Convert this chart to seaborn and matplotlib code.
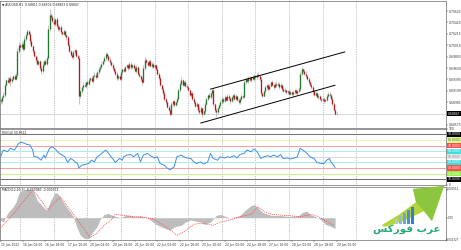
import numpy as np
import matplotlib
matplotlib.use("Agg")
import matplotlib.pyplot as plt
import matplotlib.transforms as mtrans
from matplotlib.patches import Polygon, Rectangle
import seaborn as sns

sns.set_style("white")
plt.rcParams['font.family'] = ['DejaVu Sans']

# ---------------- data ----------------
symbol_title = "\u25BC AUDUSD,H1  0.68811 0.68906 0.68803 0.68847"
rsi_title = "RSI(14) 30.8512"
macd_title = "MACD(12,26,9) -0.000983 -0.000712"

first_open = 0.6903
close = [
    0.6900, 0.6908, 0.6912, 0.6930, 0.6938, 0.6935, 0.6942, 0.6936, 0.6940, 0.6945,
    0.6941, 0.6948, 0.6990, 0.7002, 0.6998, 0.7004, 0.6995, 0.7012, 0.7020, 0.7026,
    0.7022, 0.7008, 0.6999, 0.6990, 0.6982, 0.6975, 0.6968, 0.6972, 0.6960, 0.6955,
    0.6966, 0.6972, 0.6968, 0.6978, 0.7030, 0.7055, 0.7052, 0.7045, 0.7040, 0.7048,
    0.7036, 0.7030, 0.7034, 0.7024, 0.7022, 0.7026, 0.7019, 0.7015, 0.7002, 0.6990,
    0.6984, 0.6980, 0.6988, 0.6992, 0.6982, 0.6978, 0.6910, 0.6918, 0.6925, 0.6930,
    0.6928, 0.6935, 0.6932, 0.6938, 0.6942, 0.6937, 0.6945, 0.6948, 0.6944, 0.6952,
    0.6958, 0.6962, 0.6968, 0.6972, 0.6978, 0.6986, 0.6982, 0.6975, 0.6970, 0.6966,
    0.6960, 0.6955, 0.6950, 0.6942, 0.6945, 0.6940, 0.6952, 0.6958, 0.6955, 0.6962,
    0.6965, 0.6960, 0.6968, 0.6962, 0.6966, 0.6960, 0.6955, 0.6962, 0.6950, 0.6945,
    0.6940, 0.6935, 0.6960, 0.6975, 0.6970, 0.6966, 0.6972, 0.6964, 0.6968, 0.6962,
    0.6965, 0.6958, 0.6950, 0.6942, 0.6930, 0.6922, 0.6915, 0.6905, 0.6898, 0.6890,
    0.6885, 0.6878, 0.6895, 0.6900, 0.6893, 0.6898, 0.6905, 0.6920, 0.6932, 0.6938,
    0.6930, 0.6935, 0.6928, 0.6925, 0.6920, 0.6912, 0.6915, 0.6905, 0.6898, 0.6892,
    0.6895, 0.6885, 0.6880, 0.6888, 0.6878, 0.6882, 0.6895, 0.6905, 0.6912, 0.6908,
    0.6915, 0.6920, 0.6895, 0.6885, 0.6880, 0.6888, 0.6893, 0.6898, 0.6905, 0.6900,
    0.6908, 0.6903, 0.6910, 0.6906, 0.6900, 0.6907, 0.6912, 0.6905, 0.6909, 0.6903,
    0.6898, 0.6905, 0.6910, 0.6908, 0.6935, 0.6940, 0.6936, 0.6942, 0.6938, 0.6944,
    0.6940, 0.6946, 0.6943, 0.6948, 0.6945, 0.6940, 0.6915, 0.6910, 0.6918, 0.6925,
    0.6930, 0.6922, 0.6928, 0.6935, 0.6930, 0.6926, 0.6932, 0.6929, 0.6932, 0.6926,
    0.6930, 0.6922, 0.6918, 0.6920, 0.6916, 0.6918, 0.6914, 0.6917, 0.6913, 0.6916,
    0.6920, 0.6915, 0.6918, 0.6922, 0.6950, 0.6958, 0.6955, 0.6950, 0.6945, 0.6940,
    0.6935, 0.6930, 0.6925, 0.6918, 0.6912, 0.6915, 0.6908, 0.6910, 0.6905, 0.6902,
    0.6904, 0.6900, 0.6903, 0.6910, 0.6914, 0.6911, 0.6905, 0.6895, 0.6885, 0.6878,
    0.6878,
]
up_wick_pips = [
    3, 2, 4, 2, 3, 5, 2, 4, 3, 2,
    4, 3, 6, 5, 3, 4, 2, 5, 3, 4,
    2, 3, 4, 2, 3, 2, 4, 3, 2, 3,
    3, 2, 4, 3, 8, 12, 4, 3, 5, 2,
    3, 4, 2, 3, 2, 4, 3, 2, 3, 4,
    2, 3, 4, 2, 3, 2, 5, 3, 2, 4,
    3, 2, 3, 4, 2, 3, 2, 4, 3, 2,
    3, 4, 2, 3, 4, 3, 2, 3, 4, 2,
    3, 2, 4, 3, 2, 3, 4, 2, 3, 2,
    3, 4, 2, 3, 2, 3, 4, 3, 2, 3,
    2, 3, 5, 4, 3, 2, 3, 4, 2, 3,
    2, 3, 4, 2, 3, 2, 3, 4, 2, 3,
    3, 2, 4, 3, 2, 3, 2, 4, 3, 5,
    3, 2, 3, 4, 2, 3, 2, 3, 4, 2,
    3, 2, 4, 3, 2, 3, 4, 3, 2, 3,
    2, 3, 4, 2, 3, 2, 3, 4, 2, 3,
    3, 2, 3, 4, 2, 3, 2, 3, 4, 2,
    3, 2, 3, 2, 4, 3, 2, 3, 4, 2,
    3, 4, 2, 3, 5, 2, 3, 2, 3, 4,
    2, 3, 4, 2, 3, 2, 3, 4, 2, 3,
    3, 2, 3, 4, 2, 3, 2, 3, 2, 3,
    2, 3, 2, 3, 5, 3, 2, 3, 4, 2,
    3, 2, 3, 2, 3, 4, 2, 3, 2, 3,
    2, 3, 2, 4, 3, 2, 3, 2, 3, 2,
    2,
]
dn_wick_pips = [
    4, 3, 2, 5, 3, 2, 4, 8, 3, 2,
    3, 2, 4, 3, 5, 3, 4, 2, 3, 2,
    3, 4, 2, 3, 2, 4, 3, 2, 4, 6,
    4, 3, 2, 3, 2, 4, 3, 2, 3, 4,
    2, 3, 4, 2, 3, 2, 3, 4, 2, 3,
    3, 2, 3, 4, 2, 3, 15, 4, 3, 2,
    3, 4, 2, 3, 2, 3, 4, 2, 3, 2,
    2, 3, 2, 3, 2, 3, 2, 3, 2, 3,
    3, 2, 3, 4, 3, 2, 3, 2, 3, 2,
    2, 3, 2, 3, 4, 2, 3, 4, 3, 2,
    3, 6, 2, 3, 2, 3, 2, 3, 4, 2,
    3, 2, 3, 4, 3, 2, 3, 4, 3, 2,
    3, 4, 2, 3, 4, 2, 3, 2, 3, 2,
    2, 3, 2, 3, 2, 3, 4, 2, 3, 2,
    3, 4, 2, 3, 6, 2, 3, 2, 3, 2,
    3, 2, 3, 4, 9, 3, 2, 3, 2, 3,
    2, 3, 2, 3, 4, 2, 3, 2, 3, 2,
    3, 2, 3, 2, 2, 3, 2, 3, 2, 3,
    2, 3, 2, 3, 2, 3, 4, 3, 2, 3,
    2, 3, 2, 3, 2, 3, 2, 3, 2, 3,
    2, 3, 2, 3, 2, 3, 2, 3, 2, 3,
    3, 2, 3, 2, 3, 2, 3, 2, 3, 2,
    3, 2, 3, 4, 2, 3, 2, 3, 2, 3,
    2, 3, 2, 3, 2, 3, 2, 3, 3, 3,
    2,
]

# day separators (bar index of 00:00 of each day) and time labels (every 16 bars)
day_starts = [14, 38, 62, 86, 110, 134, 158, 182, 206, 230, 254]
label_bars = [0, 16, 32, 48, 64, 80, 96, 112, 128, 144, 160, 176, 192, 208, 224, 240]
time_labels = ["15 Jun 2022", "16 Jun 02:00", "16 Jun 18:00", "17 Jun 10:00",
               "20 Jun 02:00", "20 Jun 18:00", "21 Jun 10:00", "22 Jun 02:00",
               "22 Jun 18:00", "23 Jun 10:00", "24 Jun 02:00", "24 Jun 18:00",
               "27 Jun 10:00", "28 Jun 02:00", "28 Jun 18:00", "29 Jun 10:00"]

price_ticks = [0.70625, 0.70420, 0.70215, 0.70010, 0.69805, 0.69600,
               0.69395, 0.69190, 0.68985, 0.68575]
current_price_label = "0.68847"

# channel trend lines (bar, price anchors)
upper_line_bars = [150, 246]
upper_line_price = [0.6922, 0.6989]
lower_line_bars = [143, 239]
lower_line_price = [0.6861, 0.6929]

# RSI(14)
rsi_bar = [0, 2, 5, 7, 10, 13, 15, 19, 21, 23,
           24, 26, 29, 31, 32, 35, 37, 39, 42, 44,
           46, 48, 50, 52, 55, 56, 58, 61, 63, 65,
           67, 69, 71, 75, 76, 79, 81, 82, 85, 87,
           88, 90, 93, 95, 98, 100, 102, 105, 107, 110,
           112, 114, 117, 119, 121, 124, 126, 129, 131, 133,
           136, 138, 140, 143, 145, 148, 150, 152, 155, 157,
           160, 162, 164, 167, 169, 171, 174, 176, 179, 181,
           183, 186, 188, 191, 193, 195, 198, 200, 202, 205,
           207, 210, 212, 214, 216, 217, 219, 221, 224, 226,
           229, 231, 233, 235, 236, 238, 239]
rsi_val = [50, 62, 59, 65, 62, 74, 76, 72, 71, 62,
           50, 50, 44, 53, 48, 65, 68, 64, 56, 53,
           50, 40, 47, 44, 38, 30, 35, 37, 38, 44,
           41, 50, 53, 62, 60, 50, 44, 40, 47, 44,
           50, 53, 54, 50, 56, 41, 53, 56, 52, 48,
           50, 38, 35, 30, 27, 32, 50, 53, 50, 48,
           47, 41, 38, 41, 37, 41, 56, 47, 44, 50,
           48, 50, 49, 52, 48, 54, 56, 62, 59, 64,
           60, 47, 50, 52, 50, 53, 50, 54, 47, 48,
           46, 48, 50, 65, 62, 60, 56, 50, 47, 40,
           38, 38, 44, 47, 41, 35, 31]
rsi_levels = [90, 80, 70, 60, 50, 40, 30, 20, 10]
rsi_level_line_colors = ["#6e6e6e", "#e4f5c0", "#ff9a9a", "#a6f0f0", "#d9d9d9",
                         "#a6f0f0", "#ff9a9a", "#c8f08c", "#6e6e6e"]
rsi_level_box_colors = ["#000000", "#d8ff8a", "#ff4c4c", "#3fdede", "#e6e6e6",
                        "#3fdede", "#ff4c4c", "#8cf03c", "#000000"]
rsi_level_text_colors = ["white", "#606060", "white", "white", "#909090",
                         "white", "white", "white", "white"]

# MACD(12,26,9): main (histogram) and signal
macd_bar = [0, 2, 5, 9, 11, 13, 14, 18, 21, 24,
            26, 29, 31, 33, 36, 39, 41, 44, 47, 50,
            52, 54, 57, 60, 63, 66, 69, 71, 74, 77,
            80, 83, 86, 89, 93, 96, 100, 104, 107, 111,
            114, 118, 121, 125, 129, 132, 136, 139, 143, 146,
            150, 154, 157, 161, 164, 169, 171, 175, 179, 181,
            184, 187, 191, 194, 200, 207, 213, 216, 219, 221,
            225, 229, 232, 236, 239]
macd_main = [-0.0002, -0.0004, 0.0004, 0.0010, 0.0014, 0.0022, 0.0024, 0.0026, 0.0026, 0.0023,
             0.0016, 0.0012, 0.0009, 0.0007, 0.0016, 0.0023, 0.0022, 0.0016, 0.0010, 0.0005,
             0.0001, -0.0007, -0.0016, -0.0019, -0.0019, -0.0013, -0.0008, -0.0002, 0.0003, 0.0004,
             0.0002, 0.0001, 0.0000, 0.0002, 0.0002, 0.0001, 0.0002, 0.0000, -0.0002, -0.0006,
             -0.0008, -0.0010, -0.0011, -0.0008, -0.0007, -0.0004, -0.0002, -0.0003, -0.0004, -0.0006,
             -0.0004, 0.0002, 0.0003, 0.0001, 0.0000, 0.0001, 0.0002, 0.0007, 0.0011, 0.0012,
             0.0009, 0.0005, 0.0003, 0.0002, 0.0002, 0.0001, 0.0002, 0.0005, 0.0006, 0.0003,
             0.0001, -0.0002, -0.0006, -0.0008, -0.0010]
signal_bar = [0, 7, 14, 19, 23, 26, 30, 34, 38, 43,
              47, 54, 59, 64, 69, 74, 79, 82, 89, 96,
              104, 109, 114, 120, 126, 132, 138, 143, 148, 152,
              157, 164, 171, 179, 184, 189, 194, 204, 214, 222,
              227, 231, 238]
signal_val = [-0.0009, 0.0000, 0.0011, 0.0019, 0.0025, 0.0021, 0.0014, 0.0007, 0.0013, 0.0019,
              0.0012, 0.0000, -0.0009, -0.0018, -0.0014, -0.0007, -0.0002, 0.0003, 0.0002, 0.0001,
              0.0000, -0.0001, -0.0005, -0.0010, -0.0016, -0.0012, -0.0006, -0.0005, -0.0006, -0.0007,
              -0.0004, -0.0002, 0.0001, 0.0003, 0.0010, 0.0005, 0.0003, 0.0002, 0.0001, 0.0003,
              0.0001, -0.0002, -0.0007]
macd_axis_labels = ["0.002512", "0.00", "-0.002327"]
logo_text = "\uFEB2\uFEDB\uFEAD\uFEEE\uFED3 \uFE8F\uFEAE\uFECB"   # عرب فوركس

# ---------------- styling ----------------
BULL = "#23782b"
BEAR = "#b0191c"
WICK = "#a4a4a4"
GRID = "#8c8c8c"
SPINE = "#6a6a6a"
FS = 2.2

W, H = 461, 250
fig = plt.figure(figsize=(W / 100, H / 100), dpi=100)
fig.patch.set_facecolor("white")
right_px = 445.7
ax1 = fig.add_axes([0, 1 - 127.5 / H, right_px / W, 126.5 / H])
ax2 = fig.add_axes([0, 1 - 184.9 / H, right_px / W, 56.2 / H])
ax3 = fig.add_axes([0, 1 - 240.0 / H, right_px / W, 53.5 / H])

for ax in (ax1, ax2, ax3):
    ax.set_facecolor("white")
    ax.set_xlim(-0.36, 318)
    for s in ax.spines.values():
        s.set_color(SPINE)
        s.set_linewidth(0.5)
    for d in day_starts:
        ax.axvline(d, color=GRID, lw=0.45, ls=(0, (1.2, 1.6)), zorder=0)
    ax.tick_params(axis="x", length=0, labelbottom=False)
    ax.tick_params(axis="y", left=False, labelleft=False, right=True, labelright=True,
                   length=1.3, width=0.3, pad=0.8, labelsize=FS, colors="#333333")

# ---------------- main candlestick panel ----------------
c = np.array(close)
o = np.concatenate([[first_open], c[:-1]])
idx = np.arange(len(c))
hi = np.maximum(o, c) + np.array(up_wick_pips) * 1e-4
lo = np.minimum(o, c) - np.array(dn_wick_pips) * 1e-4
bull = c >= o
ax1.vlines(idx, lo, hi, color=WICK, lw=0.45, zorder=2)
ax1.vlines(idx[bull], o[bull], c[bull], color=BULL, lw=0.95, zorder=3)
ax1.vlines(idx[~bull], c[~bull], o[~bull], color=BEAR, lw=0.95, zorder=3)
ax1.axhline(c[-1], color="#c8c8c8", lw=0.5, zorder=1)
ax1.plot(upper_line_bars, upper_line_price, color="black", lw=0.7, zorder=4)
ax1.plot(lower_line_bars, lower_line_price, color="black", lw=0.7, zorder=4)
ax1.set_ylim(0.68530, 0.70805)
ax1.set_yticks(price_ticks)
ax1.set_yticklabels([f"{p:.5f}" for p in price_ticks])
ax1.text(0.004, 0.988, symbol_title, transform=ax1.transAxes, fontsize=FS,
         va="top", ha="left", color="#222222")
tr1 = mtrans.blended_transform_factory(ax1.transAxes, ax1.transData)
ax1.text(1.004, c[-1], current_price_label, transform=tr1, fontsize=FS, color="white",
         va="center", ha="left", clip_on=False,
         bbox=dict(boxstyle="square,pad=0.25", fc="black", ec="none"))

# ---------------- RSI panel ----------------
for lv, lc in zip(rsi_levels, rsi_level_line_colors):
    ax2.axhline(lv, color=lc, lw=0.7, zorder=1)
sns.lineplot(x=rsi_bar, y=rsi_val, ax=ax2, color="#3f8fe6", lw=0.7, zorder=3)
ax2.set_ylim(0, 100)
ax2.set_yticks([100, 0])
ax2.set_yticklabels(["100", "0"])
ax2.set_xlabel("")
ax2.set_ylabel("")
ax2.text(0.004, 0.965, rsi_title, transform=ax2.transAxes, fontsize=FS,
         va="top", ha="left", color="#222222")
tr2 = mtrans.blended_transform_factory(ax2.transAxes, ax2.transData)
for lv, bc, tc in zip(rsi_levels, rsi_level_box_colors, rsi_level_text_colors):
    ax2.text(1.004, lv, f"{lv:.4f}", transform=tr2, fontsize=FS, color=tc,
             va="center", ha="left", clip_on=False,
             bbox=dict(boxstyle="square,pad=0.2", fc=bc, ec="none"))

# ---------------- MACD panel ----------------
ax3.fill_between(macd_bar, 0, macd_main, color="#bdbdbd", lw=0, zorder=2)
sns.lineplot(x=signal_bar, y=signal_val, ax=ax3, color="#ff4a4a", lw=0.6,
             linestyle=(0, (1.2, 1.2)), zorder=3)
ax3.set_ylim(-0.002036, 0.002849)
ax3.set_xlabel("")
ax3.set_ylabel("")
ax3.set_yticks([0.0025, 0.0, -0.0020])
ax3.set_yticklabels(["", "", ""])
xr = 459.5 / right_px
tr3 = mtrans.blended_transform_factory(ax3.transAxes, ax3.transAxes)
ax3.text(xr, 0.96, macd_axis_labels[0], transform=tr3, fontsize=1.9, va="center",
         ha="right", clip_on=False, color="#333333")
ax3.text(1.006, (0 + 0.002036) / (0.002849 + 0.002036), macd_axis_labels[1],
         transform=tr3, fontsize=1.9, va="center", ha="left", clip_on=False, color="#333333")
ax3.text(xr, 0.0, macd_axis_labels[2], transform=tr3, fontsize=1.9, va="center",
         ha="right", clip_on=False, color="#333333")
ax3.text(0.004, 0.965, macd_title, transform=ax3.transAxes, fontsize=FS,
         va="top", ha="left", color="#222222")
ax3.set_xticks(label_bars)
ax3.set_xticklabels(time_labels, ha="left")
ax3.tick_params(axis="x", length=1.3, width=0.3, pad=0.8, labelsize=FS,
                labelbottom=True, bottom=True, colors="#333333")

# ---------------- watermark logo (decoration, figure pixel space) ----------------
px = mtrans.Affine2D().scale(1 / W, -1 / H).translate(0, 1) + fig.transFigure
arrow = Polygon([(382, 225), (400, 214), (416, 202), (413, 189), (444, 186),
                 (432, 221), (424, 211), (404, 221), (384, 227)],
                closed=True, transform=px, fc="#b4d53a", ec="none", zorder=10)
fig.patches.append(arrow)
arrow2 = Polygon([(416, 202), (413, 189), (444, 186), (432, 221), (424, 211)],
                 closed=True, transform=px, fc="#8cc63f", ec="none", zorder=10)
fig.patches.append(arrow2)
for k, (bx, bh) in enumerate([(395, 5), (399, 8), (403, 11), (407, 14), (411, 17)]):
    fig.patches.append(Rectangle((bx, 224), 2.6, -bh, transform=px,
                                 fc=["#a9cbe8", "#8fb9e3", "#6fa5dc", "#4f8fd3", "#3a7fcb"][k],
                                 ec="none", zorder=11))
fig.text(407 / W, 1 - 229 / H, logo_text, fontsize=7.5, color="#2aa776",
         ha="center", va="center", fontweight="bold", zorder=12)

fig.savefig("out.png", dpi=100, facecolor="white")
